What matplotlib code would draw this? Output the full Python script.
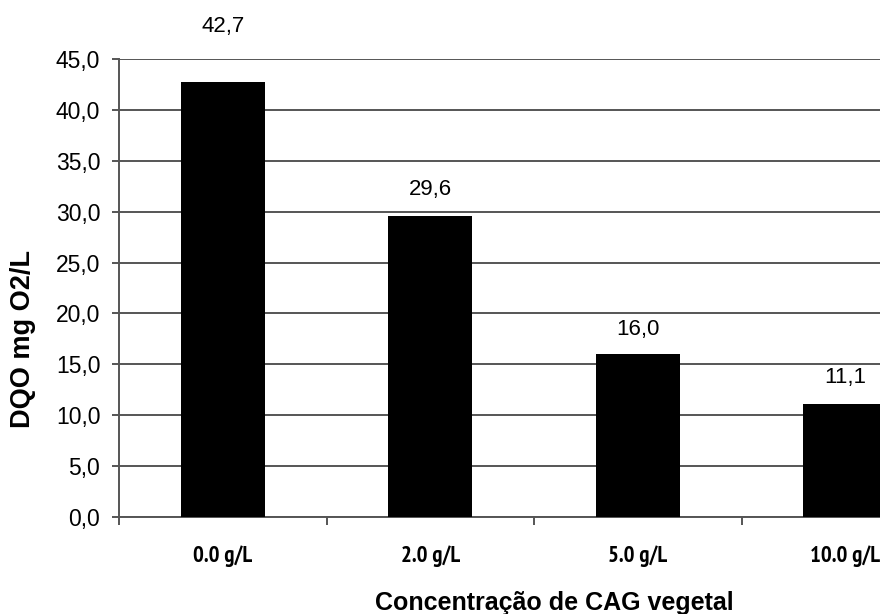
import matplotlib
matplotlib.use("Agg")
import matplotlib.pyplot as plt
from matplotlib.ticker import FixedLocator
from matplotlib import font_manager as fm

categories = ["0.0 g/L", "2.0 g/L", "5.0 g/L", "10.0 g/L"]
values = [42.7, 29.6, 16.0, 11.1]
value_labels = ["42,7", "29,6", "16,0", "11,1"]
yticks = [0, 5, 10, 15, 20, 25, 30, 35, 40, 45]
ytick_labels = ["0,0", "5,0", "10,0", "15,0", "20,0", "25,0", "30,0", "35,0", "40,0", "45,0"]

plt.rcParams['font.family'] = ['Liberation Sans', 'DejaVu Sans']

# find a narrow/condensed bold font for the category labels
cands = []
for f in fm.fontManager.ttflist:
    n = (f.name + " " + f.fname).lower()
    if ("narrow" in n or "condensed" in n) and (f.weight in ("bold", 700) or "bold" in n):
        if "oblique" in n or "italic" in n:
            continue
        cands.append(f)
cands.sort(key=lambda f: 0 if "narrow" in f.fname.lower() else 1)
if cands and "narrow" in cands[0].fname.lower():
    narrow_fp = fm.FontProperties(fname=cands[0].fname, size=16.5)
elif cands:
    narrow_fp = fm.FontProperties(fname=cands[0].fname, size=12.7)
else:
    narrow_fp = fm.FontProperties(family=['Liberation Sans', 'DejaVu Sans'], weight='bold', size=13.5)

W, H = 880, 614
fig = plt.figure(figsize=(W / 100, H / 100), dpi=100)
x0, x1 = 119, 949
y0, y1 = 517, 59
ax = fig.add_axes([x0 / W, 1 - y0 / H, (x1 - x0) / W, (y0 - y1) / H])

grid_c = "#555555"
xs = list(range(len(categories)))
ax.bar(xs, values, width=0.405, color="black", zorder=3)
ax.set_xlim(-0.5, len(categories) - 0.5)
ax.set_ylim(0, 45)

ax.set_yticks(yticks)
ax.set_yticklabels(ytick_labels, fontsize=16.5)
ax.yaxis.grid(True, color=grid_c, linewidth=1.4, zorder=0)
ax.tick_params(axis='y', length=5, width=1.4, color=grid_c, pad=8.5)

ax.set_xticks(xs)
ax.set_xticklabels(categories)
for t in ax.get_xticklabels():
    t.set_fontproperties(narrow_fp)
ax.tick_params(axis='x', length=0, pad=20.5)
ax.xaxis.set_minor_locator(FixedLocator([i + 0.5 for i in range(-1, len(categories))]))
ax.tick_params(axis='x', which='minor', length=6, width=1.4, color=grid_c)

for s in ["top", "right"]:
    ax.spines[s].set_visible(False)
for s in ["left", "bottom"]:
    ax.spines[s].set_color(grid_c)
    ax.spines[s].set_linewidth(1.4)

offsets = [36, 15, 14, 15]
for x, v, lab, off in zip(xs, values, value_labels, offsets):
    ax.annotate(lab, (x, v), xytext=(0, off), textcoords="offset points",
                ha="center", va="baseline", fontsize=16, annotation_clip=False)

fig.text(554 / W, 1 - 610 / H, "Concentração de CAG vegetal", ha="center", va="baseline",
         fontsize=18, fontweight="bold")
fig.text(23 / W, 1 - 339 / H, "DQO mg O2/L", ha="center", va="center", rotation=90,
         fontsize=19.5, fontweight="bold")

fig.savefig("out.png", dpi=100)
